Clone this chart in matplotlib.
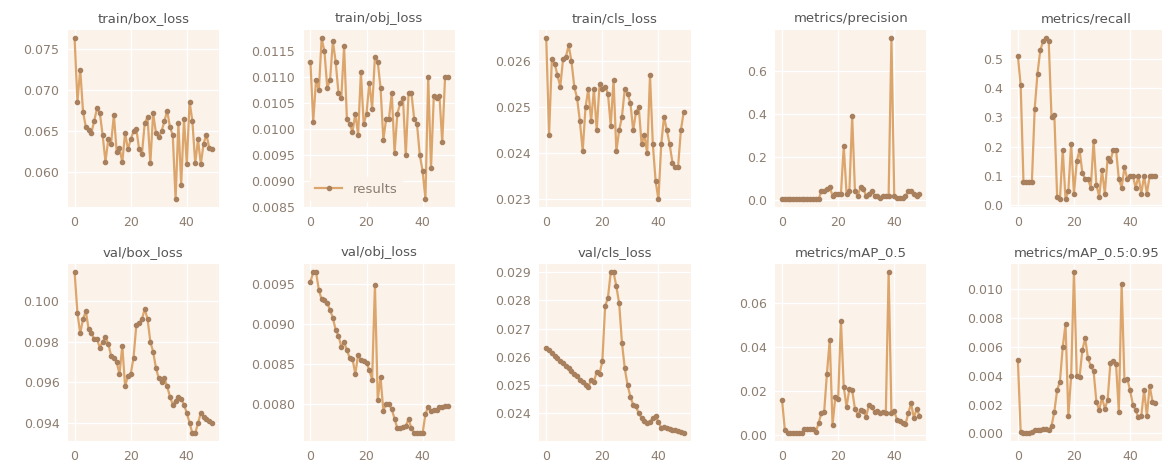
import numpy as np
import matplotlib.pyplot as plt

epochs = list(range(50))

train_box_loss = [0.0763, 0.0686, 0.0725, 0.0674, 0.0655, 0.0652, 0.0648, 0.0663, 0.0678, 0.0672,
                  0.0645, 0.0613, 0.0640, 0.0635, 0.0670, 0.0625, 0.0630, 0.0612, 0.0648, 0.0628,
                  0.0640, 0.0650, 0.0653, 0.0628, 0.0622, 0.0660, 0.0667, 0.0611, 0.0672, 0.0648,
                  0.0643, 0.0650, 0.0662, 0.0675, 0.0655, 0.0645, 0.0567, 0.0660, 0.0585, 0.0665,
                  0.0610, 0.0686, 0.0662, 0.0611, 0.0640, 0.0610, 0.0635, 0.0646, 0.0630, 0.0628]
train_obj_loss = [0.01130, 0.01015, 0.01095, 0.01075, 0.01175, 0.01150, 0.01080, 0.01095, 0.01170, 0.01130,
                  0.01070, 0.01060, 0.01160, 0.01020, 0.01010, 0.00995, 0.01030, 0.00990, 0.01110, 0.01010,
                  0.01030, 0.01090, 0.01040, 0.01140, 0.01130, 0.01080, 0.00980, 0.01020, 0.01020, 0.01070,
                  0.00955, 0.01030, 0.01050, 0.01060, 0.00950, 0.01070, 0.01070, 0.01020, 0.01010, 0.00950,
                  0.00920, 0.00865, 0.01100, 0.00925, 0.01065, 0.01060, 0.01065, 0.00975, 0.01100, 0.01100]
train_cls_loss = [0.02650, 0.02440, 0.02605, 0.02595, 0.02570, 0.02545, 0.02605, 0.02610, 0.02635, 0.02600,
                  0.02545, 0.02520, 0.02470, 0.02405, 0.02500, 0.02540, 0.02470, 0.02540, 0.02450, 0.02550,
                  0.02540, 0.02545, 0.02530, 0.02460, 0.02560, 0.02405, 0.02450, 0.02480, 0.02540, 0.02530,
                  0.02510, 0.02450, 0.02490, 0.02500, 0.02420, 0.02440, 0.02400, 0.02570, 0.02420, 0.02340,
                  0.02300, 0.02420, 0.02480, 0.02450, 0.02420, 0.02380, 0.02370, 0.02370, 0.02450, 0.02490]
precision = [0.003, 0.003, 0.003, 0.003, 0.003, 0.003, 0.003, 0.003, 0.003, 0.003,
             0.003, 0.003, 0.003, 0.003, 0.040, 0.040, 0.050, 0.060, 0.020, 0.030,
             0.030, 0.030, 0.250, 0.030, 0.040, 0.390, 0.040, 0.020, 0.060, 0.050,
             0.020, 0.030, 0.040, 0.020, 0.020, 0.010, 0.020, 0.020, 0.020, 0.750,
             0.020, 0.010, 0.010, 0.010, 0.020, 0.040, 0.040, 0.030, 0.020, 0.030]
recall = [0.51, 0.41, 0.08, 0.08, 0.08, 0.08, 0.33, 0.45, 0.53, 0.56,
          0.57, 0.56, 0.30, 0.31, 0.03, 0.02, 0.19, 0.02, 0.05, 0.21,
          0.04, 0.15, 0.19, 0.11, 0.09, 0.09, 0.06, 0.22, 0.07, 0.03,
          0.12, 0.04, 0.16, 0.15, 0.19, 0.19, 0.09, 0.06, 0.13, 0.09,
          0.10, 0.10, 0.06, 0.10, 0.04, 0.10, 0.04, 0.10, 0.10, 0.10]
val_box_loss = [0.1014, 0.0994, 0.0984, 0.0991, 0.0995, 0.0986, 0.0984, 0.0981, 0.0981, 0.0977,
                0.0980, 0.0982, 0.0979, 0.0973, 0.0972, 0.0970, 0.0964, 0.0978, 0.0958, 0.0963,
                0.0964, 0.0972, 0.0988, 0.0989, 0.0991, 0.0996, 0.0991, 0.0980, 0.0975, 0.0967,
                0.0962, 0.0960, 0.0962, 0.0958, 0.0953, 0.0949, 0.0951, 0.0953, 0.0952, 0.0949,
                0.0945, 0.0940, 0.0935, 0.0935, 0.0940, 0.0945, 0.0943, 0.0942, 0.0941, 0.0940]
val_obj_loss = [0.00953, 0.00965, 0.00965, 0.00943, 0.00931, 0.00930, 0.00926, 0.00918, 0.00908, 0.00893,
                0.00886, 0.00872, 0.00878, 0.00868, 0.00858, 0.00857, 0.00838, 0.00862, 0.00855, 0.00854,
                0.00852, 0.00843, 0.00831, 0.00949, 0.00806, 0.00834, 0.00792, 0.00801, 0.00800, 0.00794,
                0.00782, 0.00770, 0.00771, 0.00772, 0.00773, 0.00782, 0.00770, 0.00764, 0.00764, 0.00764,
                0.00764, 0.00788, 0.00797, 0.00792, 0.00793, 0.00793, 0.00797, 0.00797, 0.00798, 0.00798]
val_cls_loss = [0.02632, 0.02623, 0.02614, 0.02605, 0.02596, 0.02587, 0.02578, 0.02569, 0.02560, 0.02551,
                0.02541, 0.02531, 0.02520, 0.02510, 0.02500, 0.02492, 0.02520, 0.02512, 0.02548, 0.02540,
                0.02585, 0.02780, 0.02810, 0.02900, 0.02900, 0.02850, 0.02790, 0.02650, 0.02560, 0.02500,
                0.02460, 0.02430, 0.02425, 0.02400, 0.02385, 0.02375, 0.02365, 0.02370, 0.02385, 0.02390,
                0.02370, 0.02350, 0.02352, 0.02348, 0.02345, 0.02342, 0.02340, 0.02337, 0.02334, 0.02330]
map_05 = [0.0160, 0.0025, 0.0010, 0.0010, 0.0010, 0.0012, 0.0012, 0.0012, 0.0030, 0.0030,
          0.0030, 0.0030, 0.0015, 0.0055, 0.0100, 0.0105, 0.0280, 0.0435, 0.0048, 0.0175,
          0.0165, 0.0520, 0.0220, 0.0130, 0.0210, 0.0205, 0.0120, 0.0095, 0.0115, 0.0110,
          0.0085, 0.0140, 0.0130, 0.0105, 0.0110, 0.0100, 0.0105, 0.0100, 0.0740, 0.0100,
          0.0110, 0.0070, 0.0065, 0.0055, 0.0050, 0.0100, 0.0145, 0.0080, 0.0120, 0.0090]
map_05_095 = [0.0051, 0.0001, 0.0000, 0.0000, 0.0000, 0.0001, 0.0002, 0.0002, 0.0002, 0.0003,
              0.0003, 0.0002, 0.0005, 0.0015, 0.0030, 0.0036, 0.0060, 0.0076, 0.0012, 0.0040,
              0.0112, 0.0040, 0.0039, 0.0058, 0.0066, 0.0052, 0.0047, 0.0043, 0.0022, 0.0016,
              0.0025, 0.0017, 0.0023, 0.0049, 0.0050, 0.0048, 0.0015, 0.0104, 0.0037, 0.0038,
              0.0030, 0.0020, 0.0016, 0.0011, 0.0012, 0.0030, 0.0012, 0.0033, 0.0022, 0.0021]

titles = ['train/box_loss', 'train/obj_loss', 'train/cls_loss', 'metrics/precision', 'metrics/recall',
          'val/box_loss', 'val/obj_loss', 'val/cls_loss', 'metrics/mAP_0.5', 'metrics/mAP_0.5:0.95']
series = [train_box_loss, train_obj_loss, train_cls_loss, precision, recall,
          val_box_loss, val_obj_loss, val_cls_loss, map_05, map_05_095]

plt.rcParams['font.family'] = 'DejaVu Sans'

fig, ax = plt.subplots(2, 5, figsize=(11.68, 4.67), dpi=100)
fig.subplots_adjust(left=0.058, right=0.995, top=0.935, bottom=0.055, wspace=0.56, hspace=0.32)
ax = ax.ravel()

for i, (s, y) in enumerate(zip(titles, series)):
    a = ax[i]
    a.set_facecolor('#fbf2ea')
    a.plot(epochs, y, marker='.', color='#dca56c', linewidth=1.6, markersize=6,
           markerfacecolor='#a8805e', markeredgecolor='#a8805e', label='results')
    a.set_title(s, fontsize=9.5, color='#555555', pad=6)
    a.grid(True, color='white', linewidth=1.0)
    a.set_axisbelow(True)
    for sp in a.spines.values():
        sp.set_visible(False)
    a.tick_params(length=0, labelsize=9, colors='#8d7d70', pad=6)

ax[1].legend(loc='lower left', fontsize=9.5, frameon=True, facecolor='#fbf2ea',
             edgecolor='#fbf2ea', labelcolor='#8d7d70')

fig.savefig('out.png', dpi=100)
